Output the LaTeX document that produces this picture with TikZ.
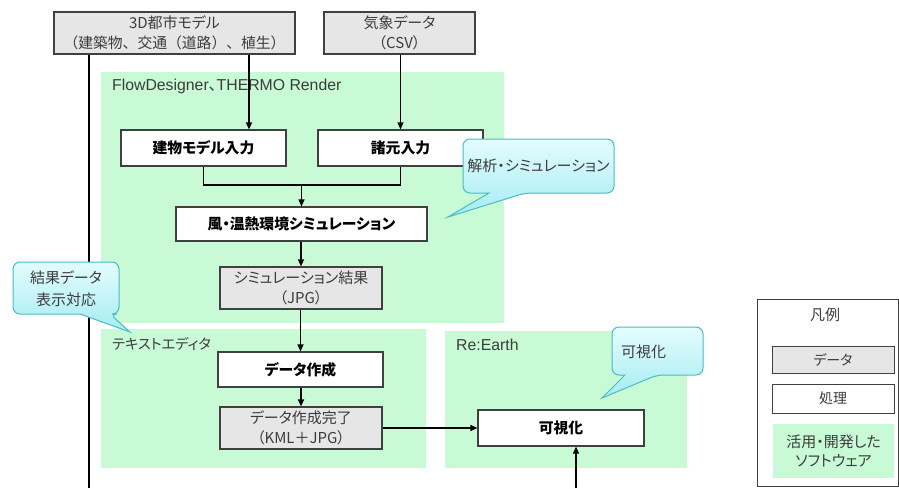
\documentclass[tikz,border=0pt]{standalone}
\usepackage{fontspec}
\setmainfont[RawFeature=+palt]{Noto Sans CJK JP}
\newfontfamily\jpfull{Noto Sans CJK JP}
\newfontfamily\lat{Liberation Sans}
\usetikzlibrary{arrows.meta,calc}
\definecolor{grn}{RGB}{200,250,214}
\definecolor{boxgray}{RGB}{230,230,230}
\definecolor{edge}{RGB}{64,64,64}
\definecolor{txt}{RGB}{60,60,60}
\definecolor{calltop}{RGB}{228,252,254}
\definecolor{callbot}{RGB}{165,236,242}
\definecolor{calledge}{RGB}{70,190,196}
\tikzset{
  databox/.style={draw=edge, line width=1.2pt, fill=boxgray, align=center, text=txt, inner sep=1pt, font=\fontsize{15}{20}\selectfont},
  procbox/.style={draw=edge, line width=1.2pt, fill=white, align=center, text=black, inner sep=1pt, font=\fontsize{14.8}{18}\selectfont\bfseries},
  arr/.style={line width=1.2pt, draw=black, -{Triangle[length=7pt,width=6pt]}},
  ln/.style={line width=1.2pt, draw=black},
  callout/.style={draw=calledge, line width=1pt, top color=calltop, bottom color=callbot},
  calltext/.style={text=txt, align=center, font=\fontsize{15}{22}\selectfont},
  grouplabel/.style={anchor=west, text=txt, font=\fontsize{15.8}{18}\selectfont, inner sep=0pt},
  legtext/.style={text=txt, align=center, font=\fontsize{15}{19}\selectfont},
}
\begin{document}
\begin{tikzpicture}[x=1pt,y=-1pt]
\useasboundingbox (0,0) rectangle (899,488);
\fill[white] (0,0) rectangle (899,488);

% software regions
\fill[grn] (101,72) rectangle (504,323);
\fill[grn] (101,329) rectangle (426,468);
\fill[grn] (445,331) rectangle (687,468);
\node[grouplabel] (g1) at (112,86) {\lat FlowDesigner{\rmfamily 、}THERMO Render};
\node[grouplabel, font=\fontsize{14.2}{18}\selectfont] (g2) at (112,344) {テキストエディタ};
\node[grouplabel] (g3) at (456,345) {\lat Re:Earth};

% nodes
\node[databox, minimum width=241pt, minimum height=42pt] (m3d) at (174.5,33) {3D都市モデル\\{\jpfull\fontsize{14.8}{20}\selectfont （建築物、交通（道路）、植生）}};
\node[databox, minimum width=151pt, minimum height=42pt] (kisho) at (399.5,33) {気象データ\\（CSV）};
\node[procbox, minimum width=165pt, minimum height=36pt] (tbm) at (203.5,148) {建物モデル入力};
\node[procbox, minimum width=165pt, minimum height=36pt] (shogen) at (400.5,148) {諸元入力};
\node[procbox, minimum width=251pt, minimum height=34pt] (kaze) at (301.5,224) {風・温熱環境シミュレーション};
\node[databox, minimum width=162pt, minimum height=42pt] (simres) at (301,288) {シミュレーション結果\\（JPG）};
\node[procbox, minimum width=165pt, minimum height=35pt] (dsak) at (300.5,369.5) {データ作成};
\node[databox, minimum width=162pt, minimum height=42pt] (dkan) at (301,428) {データ作成完了\\（KML＋JPG）};
\node[procbox, minimum width=166pt, minimum height=36pt] (kashi) at (561,428) {可視化};

% connectors
\coordinate (leftend) at (89,488);
\coordinate (bottomend) at (576,488);
\coordinate (j) at (301.5,185);
\draw[ln] (m3d.south -| leftend) -- (leftend);
\draw[arr] ([xshift=45.5pt]tbm.north |- m3d.south) -- ([xshift=45.5pt]tbm.north);
\draw[arr] (kisho.south -| shogen.north) -- (shogen.north);
\draw[ln] (tbm.south) |- (j) -| (shogen.south);
\draw[arr] (j) -- (kaze.north);
\draw[arr] (kaze.south -| simres.north) -- (simres.north);
\draw[arr] (simres.south -| dsak.north) -- (dsak.north);
\draw[arr] (dsak.south -| dkan.north) -- (dkan.north);
\draw[arr] (dkan.east) -- (kashi.west |- dkan.east);
\draw[arr] (bottomend) -- (bottomend |- kashi.south);

% callouts
\path[callout] [rounded corners=7pt] (463,139) -- (614,139) -- (614,193) -- (525,193) [sharp corners] -- (448,217) -- (489,193) [rounded corners=7pt] -- (463,193) -- cycle;
\node[calltext] (c1) at (538.5,166) {解析・シミュレーション};
\path[callout] [rounded corners=7pt] (13,262) -- (119,262) -- (119,314) -- (110,314) [sharp corners] -- (130,332) -- (80,314) [rounded corners=7pt] -- (13,314) -- cycle;
\node[calltext] (c2) at (66,289) {結果データ\\表示対応};
\path[callout] [rounded corners=7pt] (612,327) -- (703,327) -- (703,375) -- (657,375) [sharp corners] -- (602,398) -- (625,375) [rounded corners=7pt] -- (612,375) -- cycle;
\node[calltext, anchor=west, inner sep=0pt] (c3) at (621,352) {可視化};

% legend
\node[draw=edge, line width=0.8pt, minimum width=141pt, minimum height=187pt] (legend) at (827.5,392.5) {};
\node[legtext] (legt) at (825,315) {凡例};
\node[databox, line width=0.8pt, minimum width=122pt, minimum height=27pt, font=\fontsize{14}{19}\selectfont] (legd) at (833,359.5) {データ};
\node[databox, fill=white, line width=0.8pt, minimum width=122pt, minimum height=29pt, font=\fontsize{14}{19}\selectfont] (legp) at (833,398.5) {処理};
\node[legtext, fill=grn, minimum width=121pt, minimum height=54pt] (legs) at (833.5,451) {活用・開発した\\ソフトウェア};
\end{tikzpicture}
\end{document}
